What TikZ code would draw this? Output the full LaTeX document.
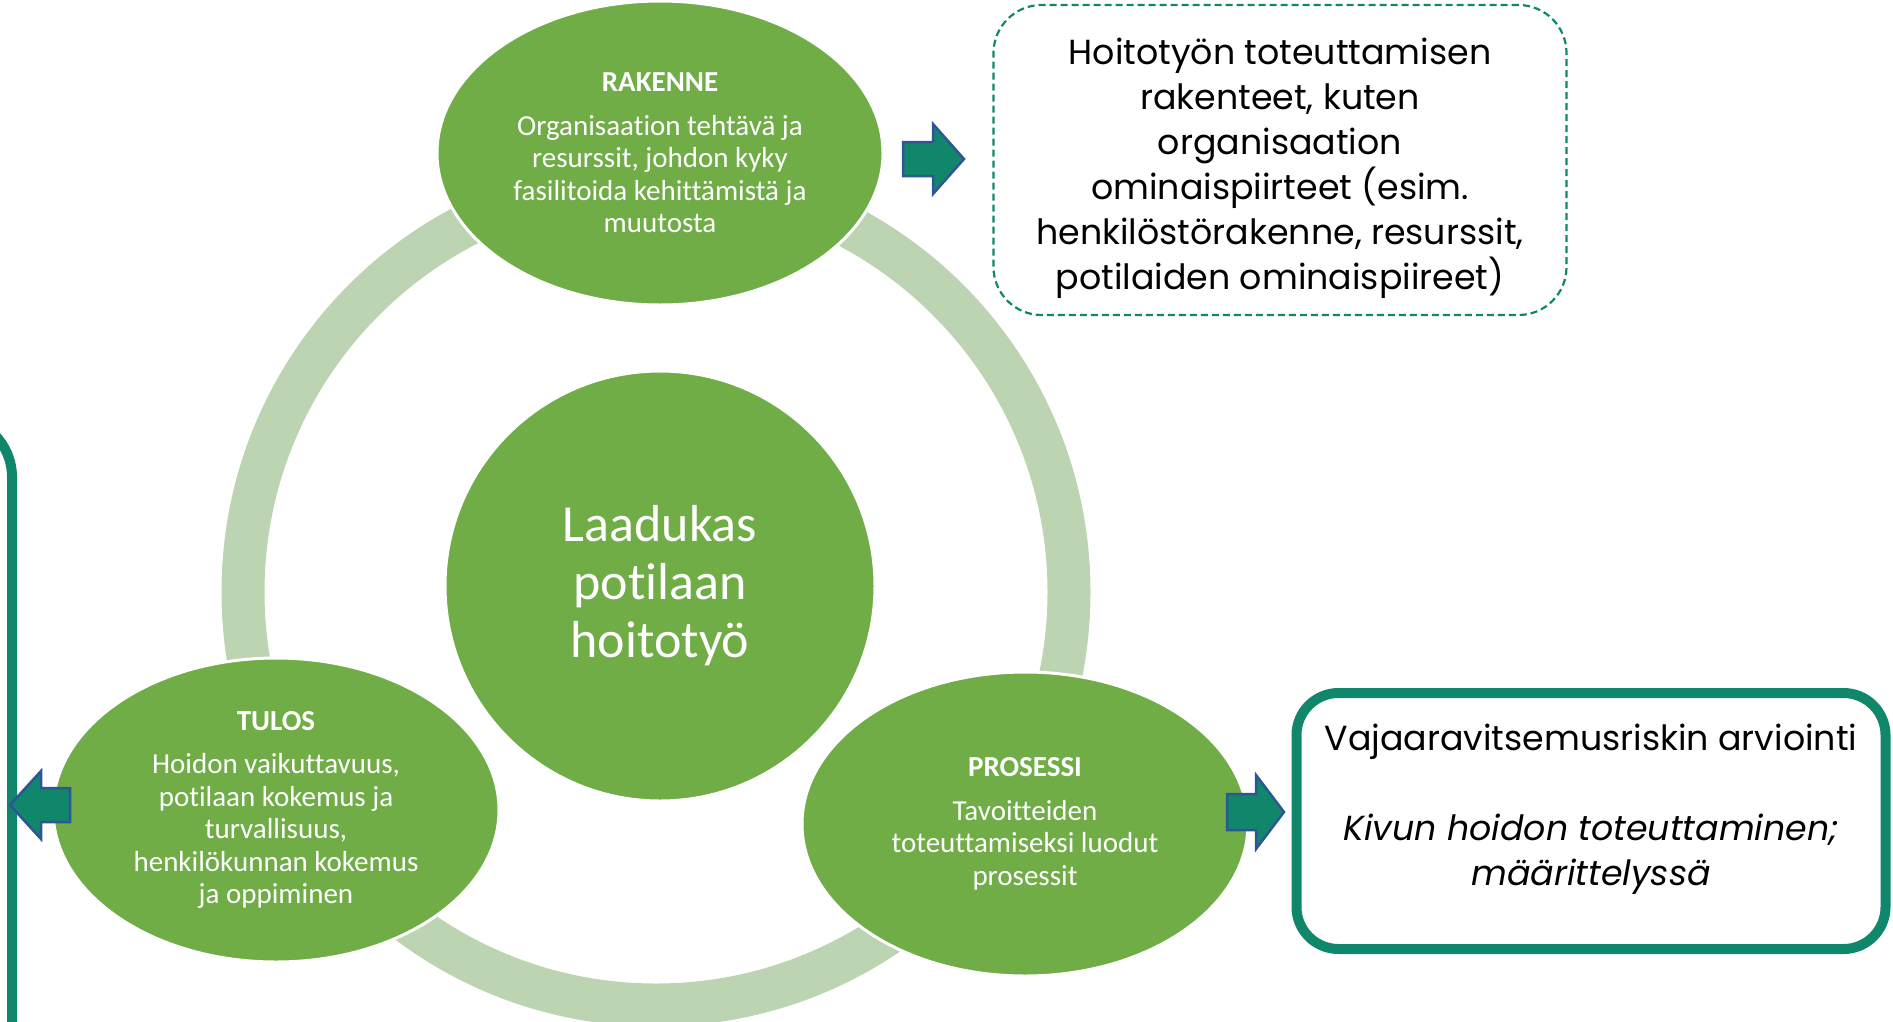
\documentclass[tikz,border=0pt]{standalone}
\usepackage{fontspec}
\setmainfont{Carlito}[Ligatures=NoCommon]
\newfontfamily\gothic{Poppins}
\definecolor{LeafGreen}{HTML}{70AD47}
\definecolor{PaleGreen}{HTML}{BCD4B1}
\definecolor{DeepTeal}{HTML}{10876A}
\definecolor{EdgeBlue}{HTML}{2F5597}
\usetikzlibrary{shapes.geometric,positioning}

\begin{document}
\begin{tikzpicture}[x=1pt,y=-1pt,
    phase/.style={ellipse,fill=LeafGreen,draw=white,line width=3pt,text=white,align=center,inner sep=0pt,minimum width=446pt,minimum height=304pt,font=\fontsize{29}{32.5}\selectfont},
    core/.style={circle,fill=LeafGreen,draw=white,line width=3pt,text=white,align=center,minimum size=430pt,font=\fontsize{52}{58}\selectfont},
    notebox/.style={draw=DeepTeal,rounded corners=48pt,line width=2.2pt,dash pattern=on 7pt off 4pt,minimum width=573pt,minimum height=310pt},
    riskbox/.style={draw=DeepTeal,rounded corners=42pt,line width=10pt,minimum width=589pt,minimum height=256pt},
    boxtext/.style={align=center,inner sep=0pt,font=\gothic\fontsize{34.8}{45}\selectfont},
    blockarr/.style={fill=DeepTeal,draw=EdgeBlue,line width=2.5pt,line join=miter}]
      \useasboundingbox (0,0) rectangle (1893,1021);
      % ring behind the three phases
      \draw[PaleGreen,line width=43pt] (656,592) circle[radius=413pt];
      \node[core] (core) at (660,586) {Laadukas\\potilaan\\hoitotyö};
      \node[phase] (rak) at (660,153) {\textbf{RAKENNE}\\[11pt]Organisaation tehtävä ja\\resurssit, johdon kyky\\fasilitoida kehittämistä ja\\muutosta};
      \node[phase] (tul) at (276,810) {\textbf{TULOS}\\[11pt]Hoidon vaikuttavuus,\\potilaan kokemus ja\\turvallisuus,\\henkilökunnan kokemus\\ja oppiminen};
      \node[phase] (pro) at (1025,824) {\textbf{PROSESSI}\\[11pt]Tavoitteiden\\toteuttamiseksi luodut\\prosessit};
      \node[notebox] (note) at (1280,160) {};
      \node[boxtext] (notetext) at (1280,168) {Hoitotyön toteuttamisen\\rakenteet, kuten\\organisaation\\ominaispiirteet (esim.\\henkilöstörakenne, resurssit,\\potilaiden ominaispiireet)};
      \node[riskbox] (risk) at (1591,821) {};
      \node[boxtext] (risktext) at (1591,809) {Vajaaravitsemusriskin arviointi\\[45pt]\textit{Kivun hoidon toteuttaminen;}\\\textit{määrittelyssä}};
      % box cut off at the left edge
      \draw[DeepTeal,line width=10pt,rounded corners=60pt] (-300,417) -- (12,417) -- (12,1100);
      % block arrows
      \draw[blockarr] (903,142) -- (933,142) -- (933,124) -- (964,159) -- (933,194) -- (933,176) -- (903,176) -- cycle;
      \draw[blockarr] (1227,794) -- (1256,794) -- (1256,775) -- (1284,812) -- (1256,849) -- (1256,830) -- (1227,830) -- cycle;
      \draw[blockarr] (70,788) -- (41,788) -- (41,771) -- (10,805) -- (41,839) -- (41,822) -- (70,822) -- cycle;
\end{tikzpicture}
\end{document}
